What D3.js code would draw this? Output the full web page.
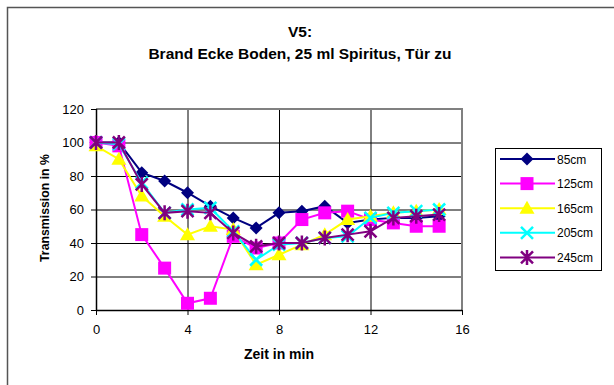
<!DOCTYPE html>
<html><head><meta charset="utf-8">
<script src="https://cdn.jsdelivr.net/npm/d3@7"></script>
<style>body{margin:0;background:#fff}svg{display:block;font-family:"Liberation Sans",Arial,sans-serif}</style>
</head><body><svg id="c" width="614" height="385"></svg>
<script>
const minutes = [0,1,2,3,4,5,6,7,8,9,10,11,12,13,14,15];
const s85  = [100,100,82,77,70,62,55,49,58,59,62,52,54,55,55,56];
const s125 = [100,98,45,25,4,7,44,37,40,54,58,59,54,52,50,50];
const s165 = [98,90,68,56,45,50,48,27,33,39,45,54,56,58,59,60];
const s205 = [100,99,76,58,60,61,47,30,39,40,43,44,55,58,59,60];
const s245 = [100,100,75,58,59,58,46,38,40,40,43,45,47,55,56,57];
const seriesNames = ["85cm","125cm","165cm","205cm","245cm"];
const seriesColors = ["#000080","#ff00ff","#ffff00","#00ffff","#800080"];
const seriesMarkers = ["diamond","square","triangle","x","star"];
const yTicks = [0,20,40,60,80,100,120];
const xTicks = [0,4,8,12,16];
const title1 = "V5:";
const title2 = "Brand Ecke Boden, 25 ml Spiritus, Tür zu";
const xLabel = "Zeit in min";
const yLabel = "Transmission in %";

const allSeries = [s85,s125,s165,s205,s245];
const svg = d3.select("#c");
const W = 614, H = 385;
const L = 96, R = 462, T = 109, B = 310;
const x = d3.scaleLinear().domain([0,16]).range([L,R]);
const y = d3.scaleLinear().domain([0,120]).range([B,T]);

// outer border
svg.append("path").attr("d",`M7.5,${H+2}V7.5H${W+2}`).attr("fill","none").attr("stroke","#555").attr("stroke-width",1.5);

// titles
svg.append("text").attr("x",300).attr("y",37).attr("text-anchor","middle").attr("font-weight","bold").attr("font-size",15.5).text(title1);
svg.append("text").attr("x",300).attr("y",59).attr("text-anchor","middle").attr("font-weight","bold").attr("font-size",15.5).text(title2);

// gridlines
svg.append("g").selectAll("line").data(yTicks.filter(d=>d>0 && d<120)).join("line")
  .attr("x1",L).attr("x2",R).attr("y1",d=>y(d)+0.5).attr("y2",d=>y(d)+0.5).attr("stroke","#000").attr("stroke-width",1);
svg.append("g").selectAll("line").data(xTicks.filter(d=>d>0 && d<16)).join("line")
  .attr("y1",T).attr("y2",B).attr("x1",d=>x(d)+0.5).attr("x2",d=>x(d)+0.5).attr("stroke","#000").attr("stroke-width",1);

// plot border top/right gray
svg.append("path").attr("d",`M${L},${T}H${R}V${B}`).attr("fill","none").attr("stroke","#808080").attr("stroke-width",2);

// axes
const yAxis = d3.axisLeft(y).tickValues(yTicks).tickSize(5).tickPadding(7);
const gy = svg.append("g").attr("transform",`translate(${L},0)`).call(yAxis);
const xAxis = d3.axisBottom(x).tickValues(xTicks).tickSize(5).tickPadding(10);
const gx = svg.append("g").attr("transform",`translate(0,${B})`).call(xAxis);
[gy,gx].forEach(g=>{
  g.select(".domain").attr("stroke","#000").attr("stroke-width",1.5);
  g.selectAll(".tick line").attr("stroke","#000");
  g.selectAll("text").attr("font-size",13).attr("font-family","Liberation Sans, Arial, sans-serif").attr("fill","#000");
});
gy.select(".domain").attr("d",`M0.5,${B}V${T}`);
gx.select(".domain").attr("d",`M${L},0.5H${R}`);

// axis labels
svg.append("text").attr("x",279).attr("y",359).attr("text-anchor","middle").attr("font-weight","bold").attr("font-size",14).text(xLabel);
svg.append("text").attr("transform",`translate(48.5,208) rotate(-90)`).attr("text-anchor","middle").attr("font-weight","bold").attr("font-size",12.3).text(yLabel);

function drawMarker(g, type, cx, cy, color){
  if(type==="diamond"){
    g.append("path").attr("d",`M${cx},${cy-6.5}L${cx+6.5},${cy}L${cx},${cy+6.5}L${cx-6.5},${cy}Z`).attr("fill",color);
  } else if(type==="square"){
    g.append("rect").attr("x",cx-6.5).attr("y",cy-6.5).attr("width",13).attr("height",13).attr("fill",color);
  } else if(type==="triangle"){
    g.append("path").attr("d",`M${cx},${cy-7.5}L${cx+7.5},${cy+5.5}L${cx-7.5},${cy+5.5}Z`).attr("fill",color);
  } else if(type==="x"){
    g.append("path").attr("d",`M${cx-6},${cy-6}L${cx+6},${cy+6}M${cx+6},${cy-6}L${cx-6},${cy+6}`).attr("stroke",color).attr("stroke-width",2.5);
  } else if(type==="star"){
    g.append("path").attr("d",`M${cx-6},${cy-6}L${cx+6},${cy+6}M${cx+6},${cy-6}L${cx-6},${cy+6}M${cx},${cy-7.5}V${cy+7.5}`).attr("stroke",color).attr("stroke-width",2.5);
  }
}

const line = d3.line().x((d,i)=>x(minutes[i])).y(d=>y(d));
allSeries.forEach((s,k)=>{
  const g = svg.append("g");
  g.append("path").attr("d",line(s)).attr("fill","none").attr("stroke",seriesColors[k]).attr("stroke-width",2);
  s.forEach((v,i)=>drawMarker(g, seriesMarkers[k], x(minutes[i]), y(v), seriesColors[k]));
});

// legend
const lg = svg.append("g");
lg.append("rect").attr("x",495.5).attr("y",148.5).attr("width",106).attr("height",122).attr("fill","#fff").attr("stroke","#000").attr("stroke-width",1);
seriesNames.forEach((n,k)=>{
  const cy = 159 + k*24.6;
  lg.append("line").attr("x1",500).attr("x2",555).attr("y1",cy).attr("y2",cy).attr("stroke",seriesColors[k]).attr("stroke-width",2);
  drawMarker(lg, seriesMarkers[k], 527, cy, seriesColors[k]);
  lg.append("text").attr("x",557).attr("y",cy+4.5).attr("font-size",12).text(n);
});
</script></body></html>
